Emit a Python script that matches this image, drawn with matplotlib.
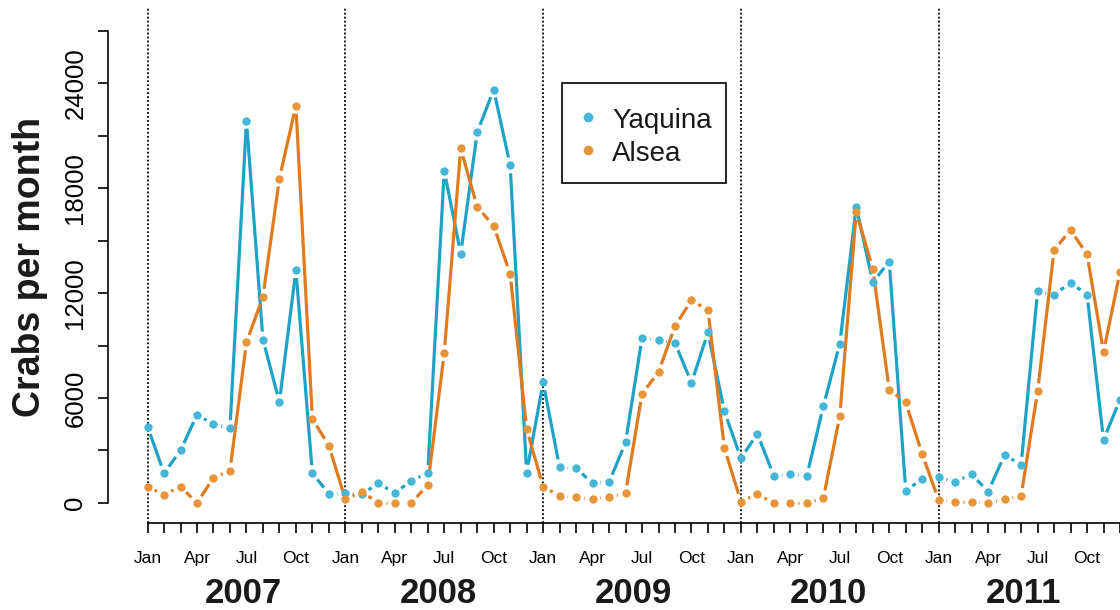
import matplotlib
matplotlib.use('Agg')
import matplotlib.pyplot as plt
from matplotlib.collections import LineCollection
from matplotlib.lines import Line2D
from matplotlib.patches import Rectangle
import matplotlib.transforms as mtransforms
import numpy as np

plt.rcParams['font.family'] = ['Liberation Sans', 'DejaVu Sans']

# monthly crab counts, Jan 2007 .. Dec 2011
years = ['2007', '2008', '2009', '2010', '2011']
month_names = ['Jan', 'Apr', 'Jul', 'Oct']

yaquina = [
    4370, 1700, 3000, 5040, 4510, 4280, 21840, 9340, 5770, 13310, 1700, 520,
    560, 500, 1130, 560, 1280, 1700, 18980, 14250, 21180, 23620, 19300, 1740,
    6890, 2040, 1990, 1130, 1190, 3460, 9430, 9300, 9150, 6860, 9750, 5230,
    2560, 3950, 1550, 1660, 1550, 5520, 9110, 16920, 12620, 13790, 710, 1360,
    1470, 1220, 1640, 650, 2750, 2180, 12100, 11910, 12580, 11910, 3610, 5900,
]
alsea = [
    940, 460, 940, 0, 1450, 1850, 9180, 11780, 18540, 22700, 4810, 3280,
    210, 650, 0, 0, 0, 1030, 8570, 20260, 16920, 15830, 13100, 4220,
    940, 400, 330, 210, 330, 560, 6230, 7490, 10100, 11590, 11020, 3130,
    80, 500, 0, 0, 0, 270, 4980, 16630, 13390, 6470, 5750, 2790,
    170, 80, 80, 0, 210, 400, 6380, 14450, 15600, 14210, 8630, 13200,
]
series = [('Yaquina', yaquina, '#1ea2c6', '#45b5d8'),
          ('Alsea', alsea, '#e07a1f', '#e8953a')]

W, H = 1120, 610
fig = plt.figure(figsize=(W / 100, H / 100), dpi=100)
ax = fig.add_axes([108 / W, (H - 523) / H, (W - 108) / W, (523 - 8) / H])
ax.set_xlim(-2.4, 58.45)
ax.set_ylim(-1143, 28286)

for side in ['top', 'right']:
    ax.spines[side].set_visible(False)
ax.spines['left'].set_bounds(0, 27000)
ax.spines['bottom'].set_bounds(0, 60)
ax.spines['left'].set_linewidth(1.2)
ax.spines['bottom'].set_linewidth(1.2)

yt = np.arange(0, 27001, 3000)
ax.set_yticks(yt)
ax.set_yticklabels([str(v) if v % 6000 == 0 else '' for v in yt])
ax.tick_params(axis='y', length=7.2, width=1.2, labelsize=18.5, pad=7.6)
for lab in ax.get_yticklabels():
    lab.set_rotation(90)
    lab.set_va('center')

months = np.arange(len(yaquina))
ax.set_xticks(months)
ax.set_xticklabels([month_names[i % 12 // 3] if i % 3 == 0 else '' for i in months])
ax.tick_params(axis='x', length=7.2, width=1.2, labelsize=12.5, pad=13.3)

# year boundaries
for k in range(len(years)):
    ax.axvline(12 * k, color='black', ls=(0, (1, 1.2)), lw=1.3, zorder=1)

# year captions under the month labels
trans = mtransforms.blended_transform_factory(ax.transData, fig.transFigure)
for k, yr in enumerate(years):
    ax.text(5.8 + 11.83 * k, (H - 603) / H, yr, transform=trans, ha='center',
            va='baseline', fontsize=25, fontweight='bold', color='#1a1a1a')

fig.text(30 / W, 1 - 266.5 / H, 'Crabs per month', rotation=90, ha='center',
         va='center', fontsize=27, fontweight='bold', color='#1a1a1a')


def draw_b(ax, x, y, line_color, point_color, gap=8.0):
    # points joined by segments that stop short of each point
    pts = ax.transData.transform(np.column_stack([x, y]))
    inv = ax.transData.inverted()
    segs = []
    for p0, p1 in zip(pts[:-1], pts[1:]):
        d = p1 - p0
        L = np.hypot(*d)
        if L <= 2 * gap:
            continue
        u = d / L
        segs.append(inv.transform(np.array([p0 + u * gap, p1 - u * gap])))
    ax.add_collection(LineCollection(segs, colors=line_color, linewidths=2.3,
                                     capstyle='butt', zorder=2), autolim=False)
    ax.plot(x, y, 'o', ms=6, color=point_color, mec='none', zorder=3,
            scalex=False, scaley=False)


for name, vals, lc, pc in series:
    draw_b(ax, months, vals, lc, pc)

# legend box
fig.add_artist(Rectangle((561.7 / W, 1 - 183.3 / H), (726 - 561.7) / W, 100 / H,
                         transform=fig.transFigure, fill=False, ec='black', lw=1.2))
for k, (name, vals, lc, pc) in enumerate(series):
    fig.add_artist(Line2D([588 / W], [1 - (116.7 + 33.3 * k) / H], marker='o',
                          ms=7, color=pc, mec='none', ls='none',
                          transform=fig.transFigure))
    fig.text(612 / W, 1 - (128.3 + 32.4 * k) / H, name, fontsize=20,
             va='baseline', ha='left', color='#1a1a1a')

fig.savefig('out.png', dpi=100)
